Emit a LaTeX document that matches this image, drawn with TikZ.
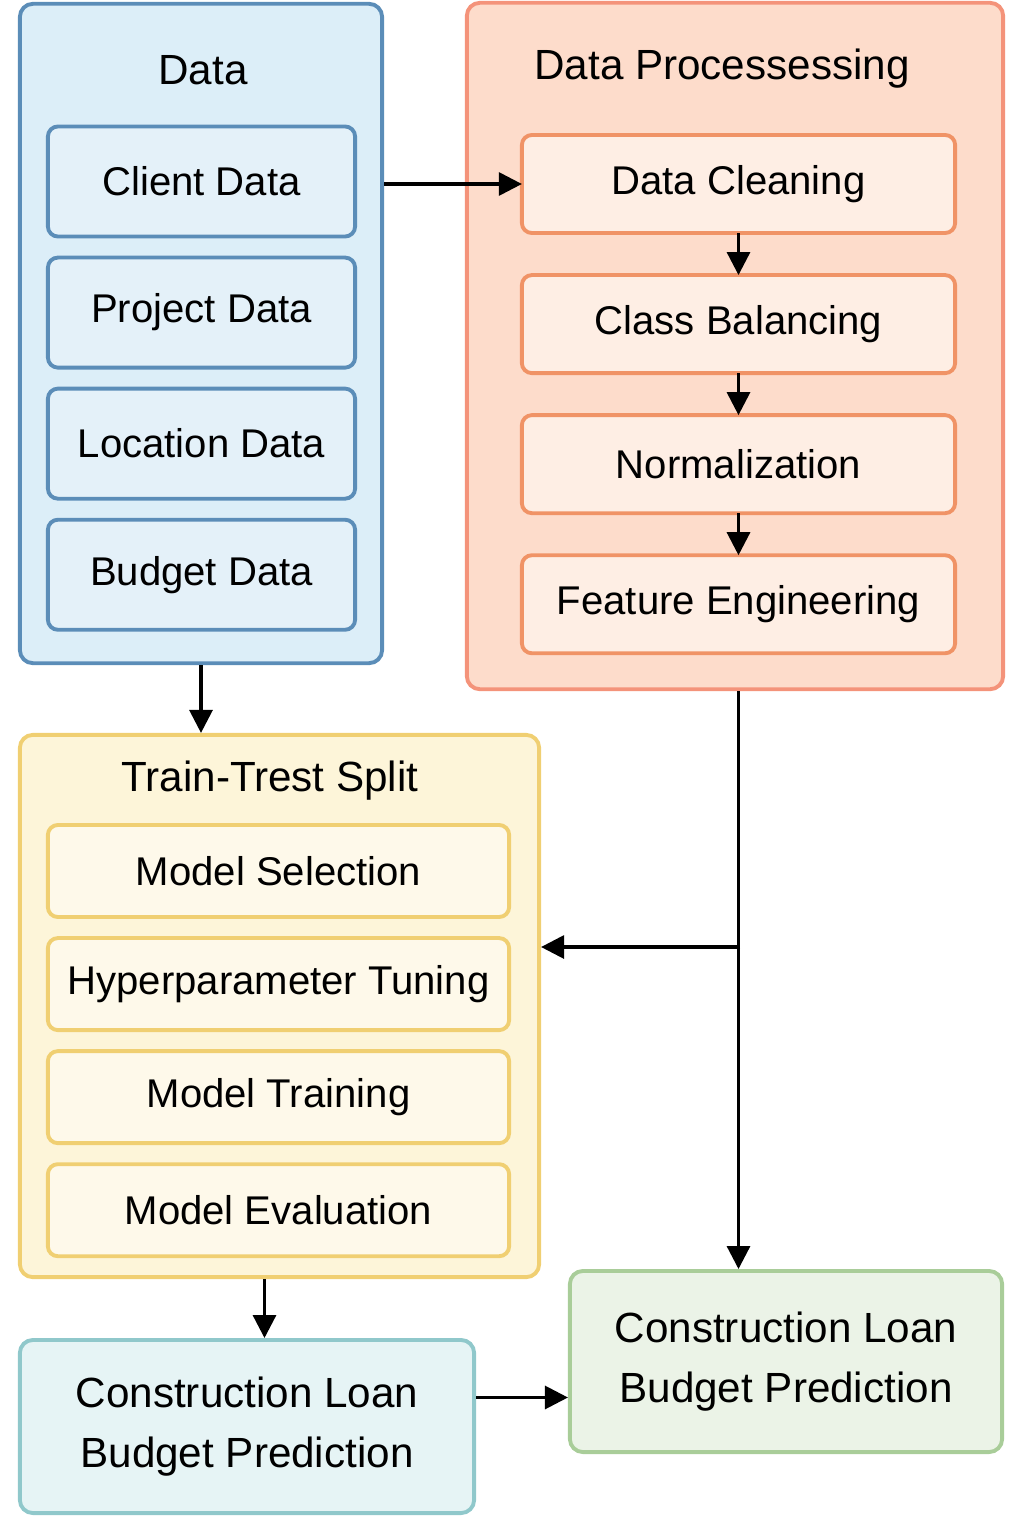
\documentclass[tikz,border=0pt]{standalone}
\usepackage{fontspec}
\setmainfont{Liberation Sans}
\usepackage{xcolor}
\usepackage{tikz}
\usetikzlibrary{positioning, arrows.meta}

\definecolor{dataFill}{HTML}{DCEEF8}
\definecolor{dataIn}{HTML}{E4F1F9}
\definecolor{dataLine}{HTML}{5B8DB8}
\definecolor{procFill}{HTML}{FDDCCB}
\definecolor{procIn}{HTML}{FEEEE4}
\definecolor{procLine}{HTML}{F4937A}
\definecolor{procInLine}{HTML}{F09366}
\definecolor{trainFill}{HTML}{FDF5D9}
\definecolor{trainIn}{HTML}{FEF9EA}
\definecolor{trainLine}{HTML}{F0CF72}
\definecolor{predFill}{HTML}{E6F4F5}
\definecolor{predLine}{HTML}{90C8CB}
\definecolor{resFill}{HTML}{EBF3E7}
\definecolor{resLine}{HTML}{A9CD99}

\begin{document}
\begin{tikzpicture}[x=0.01cm, y=-0.01cm, >={Triangle[length=0.23cm, width=0.23cm]},
    outer/.style={draw, rectangle, rounded corners=0.13cm, line width=1.1pt},
    inner/.style={draw, rectangle, rounded corners=0.1cm, line width=1.1pt, outer sep=0pt,
        font=\fontsize{11.4}{14}\selectfont},
    title/.style={font=\fontsize{12}{14}\selectfont},
    link/.style={->, line width=0.9pt}]
                \useasboundingbox (0,0) rectangle (1024,1536);
                % Data
                \node [outer, fill=dataFill, draw=dataLine, minimum width=3.62cm, minimum height=6.59cm] (data) at (201,333.5) {};
                \node [title] (datatitle) at (203,70) {Data};
                \node [inner, fill=dataIn, draw=dataLine, minimum width=3.07cm, minimum height=1.1cm] (client) at (201.5,181.5) {Client Data};
                \node [inner, fill=dataIn, draw=dataLine, minimum width=3.07cm, minimum height=1.1cm, below=0.21cm of client] (project) {Project Data};
                \node [inner, fill=dataIn, draw=dataLine, minimum width=3.07cm, minimum height=1.1cm, below=0.21cm of project] (location) {Location Data};
                \node [inner, fill=dataIn, draw=dataLine, minimum width=3.07cm, minimum height=1.1cm, below=0.21cm of location] (budget) {Budget Data};
                % Data Processessing
                \node [outer, fill=procFill, draw=procLine, minimum width=5.36cm, minimum height=6.86cm] (proc) at (735,346) {};
                \node [title] (proctitle) at (722,69) {Data Processessing};
                \node [inner, fill=procIn, draw=procInLine, minimum width=4.33cm, minimum height=0.98cm] (clean) at (738.5,184) {Data Cleaning};
                \node [inner, fill=procIn, draw=procInLine, minimum width=4.33cm, minimum height=0.98cm, below=0.42cm of clean] (balance) {Class Balancing};
                \node [inner, fill=procIn, draw=procInLine, minimum width=4.33cm, minimum height=0.98cm, below=0.42cm of balance] (norm) {Normalization};
                \node [inner, fill=procIn, draw=procInLine, minimum width=4.33cm, minimum height=0.98cm, below=0.42cm of norm] (feature) {Feature Engineering};
                % Train-Trest Split
                \node [outer, fill=trainFill, draw=trainLine, minimum width=5.19cm, minimum height=5.42cm] (train) at (279.5,1006) {};
                \node [title] (traintitle) at (270,781) {Train-Trest Split};
                \node [inner, fill=trainIn, draw=trainLine, minimum width=4.61cm, minimum height=0.92cm] (select) at (278.5,871) {Model Selection};
                \node [inner, fill=trainIn, draw=trainLine, minimum width=4.61cm, minimum height=0.92cm, below=0.21cm of select] (tune) {Hyperparameter Tuning};
                \node [inner, fill=trainIn, draw=trainLine, minimum width=4.61cm, minimum height=0.92cm, below=0.21cm of tune] (training) {Model Training};
                \node [inner, fill=trainIn, draw=trainLine, minimum width=4.61cm, minimum height=0.92cm, below=0.21cm of training] (evaluate) {Model Evaluation};
                % Predictions
                \node [outer, fill=predFill, draw=predLine, minimum width=4.54cm, minimum height=1.73cm, align=center, font=\fontsize{12}{17}\selectfont] (pred) at (247,1426.5) {Construction Loan\\Budget Prediction};
                \node [outer, fill=resFill, draw=resLine, minimum width=4.32cm, minimum height=1.81cm, align=center, font=\fontsize{12}{17}\selectfont] (result) at (786,1361.5) {Construction Loan\\Budget Prediction};
                % connectors
                \draw [link] (data.east |- clean.west) -- (clean.west);
                \draw [link] (clean) -- (balance);
                \draw [link] (balance) -- (norm);
                \draw [link] (norm) -- (feature);
                \draw [link] (data.south) -- (data.south |- train.north);
                \coordinate (branch) at (740,947);
                \draw [link] (clean.south |- proc.south) -- (clean.south |- result.north);
                \draw [link] (branch) -- (train.east |- branch);
                \draw [link] ([xshift=-0.15cm]train.south) -- ([xshift=-0.15cm]train.south |- pred.north);
                \draw [link] ([yshift=0.29cm]pred.east) -- ([yshift=0.29cm]pred.east -| result.west);
            \end{tikzpicture}
\end{document}
